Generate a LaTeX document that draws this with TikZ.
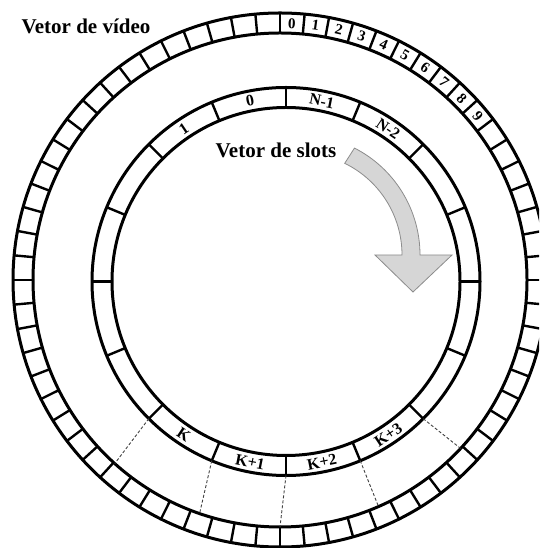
\documentclass[tikz,border=0pt]{standalone}
\usepackage{fontspec}
\setmainfont{Liberation Serif}
\usetikzlibrary{calc}
\begin{document}
\begin{tikzpicture}[x=1pt,y=1pt,
  ring/.style={line width=3pt},
  divider/.style={line width=2.4pt},
  guide/.style={densely dashed, line width=0.9pt, black!75},
  celllabel/.style={font=\bfseries\fontsize{15}{15}\selectfont, inner sep=0pt},
  slotlabel/.style={font=\bfseries\fontsize{16}{16}\selectfont, inner sep=0pt},
  title/.style={font=\bfseries\fontsize{21}{21}\selectfont, inner sep=0pt},
  bigarrow/.style={fill=black!16, draw=black!45, line width=0.8pt}]
\useasboundingbox (0,0) rectangle (539,548);
\begin{scope}
\clip (0,0) rectangle (539,548);
\coordinate (O) at (280,268);
\coordinate (I) at (286,266.5);
\coordinate (C) at (300,293);
% outer ring (video vector)
\draw[ring] (O) circle[radius=267];
\draw[ring] (O) circle[radius=247];
\foreach \i in {0,...,67}
  \draw[divider] ($(O)+({90-\i*5.29412}:247)$) -- ($(O)+({90-\i*5.29412}:267)$);
\foreach \i in {0,...,9}
  \node[celllabel, rotate={-(\i+0.5)*5.29412}] (v\i) at ($(O)+({90-(\i+0.5)*5.29412}:257)$) {\i};
% inner ring (slot vector)
\draw[ring] (I) circle[radius=194];
\draw[ring] (I) circle[radius=174];
\foreach \k in {0,...,15}
  \draw[divider] ($(I)+({\k*22.5}:174)$) -- ($(I)+({\k*22.5}:194)$);
\node[slotlabel, rotate=11.25] (s0) at ($(I)+(101.25:184)$) {0};
\node[slotlabel, rotate=33.75] (s1) at ($(I)+(123.75:184)$) {1};
\node[slotlabel, rotate=-11.25] (sn1) at ($(I)+(78.75:184)$) {N-1};
\node[slotlabel, rotate=-33.75] (sn2) at ($(I)+(56.25:184)$) {N-2};
\node[slotlabel, rotate=-33.75] (sk) at ($(I)+(236.25:184)$) {K};
\node[slotlabel, rotate=-11.25] (sk1) at ($(I)+(258.75:184)$) {K+1};
\node[slotlabel, rotate=11.25] (sk2) at ($(I)+(281.25:184)$) {K+2};
\node[slotlabel, rotate=33.75] (sk3) at ($(I)+(303.75:184)$) {K+3};
% dashed guides
\foreach \a/\b [count=\n] in {225/228, 247.5/251, 270/270, 292.5/293.5, 315/317} {
  \coordinate (gs\n) at ($(I)+(\a:194)$);
  \coordinate (ge\n) at ($(O)+(\b:247)$);
  \draw[guide] (gs\n) -- (ge\n);
}
% rotation arrow
\draw[bigarrow] ($(C)+(63:120)$) arc[start angle=63, end angle=0, radius=120]
  -- (452,293) -- (413,256) -- (375,293) -- ($(C)+(0:102)$)
  arc[start angle=0, end angle=64, radius=102] -- cycle;
\node[title] (vv) at (86,522) {Vetor de vídeo};
\node[title] (vs) at (276,398) {Vetor de slots};
\end{scope}
\end{tikzpicture}
\end{document}
